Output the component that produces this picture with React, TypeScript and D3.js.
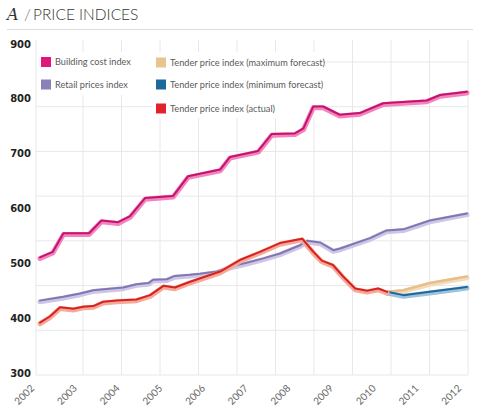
import React from "react";
import * as d3 from "d3";

const years = [2002, 2003, 2004, 2005, 2006, 2007, 2008, 2009, 2010, 2011, 2012];
const yTicks = [300, 400, 500, 600, 700, 800, 900];

const buildingCost: [number, number][] = [
  [2002.0, 511], [2002.3, 521], [2002.55, 555], [2003.15, 555], [2003.44, 578],
  [2003.83, 575], [2004.11, 586], [2004.46, 619], [2005.12, 623], [2005.47, 659],
  [2006.22, 671], [2006.45, 694], [2007.11, 705], [2007.43, 736], [2007.97, 737],
  [2008.17, 746], [2008.4, 786], [2008.63, 786], [2009.02, 771], [2009.49, 774],
  [2010.04, 792], [2011.06, 797], [2011.37, 807], [2012.0, 813],
];

const retailPrices: [number, number][] = [
  [2002.0, 432], [2002.55, 439], [2002.94, 445], [2003.25, 451], [2003.56, 453],
  [2003.95, 456], [2004.26, 462], [2004.54, 464], [2004.65, 470], [2004.97, 471],
  [2005.16, 477], [2005.51, 479], [2005.75, 481], [2006.14, 485], [2006.45, 494],
  [2006.84, 501], [2007.23, 509], [2007.62, 518], [2008.09, 533], [2008.25, 541],
  [2008.56, 538], [2008.87, 524], [2009.03, 527], [2009.73, 546], [2010.12, 560],
  [2010.51, 562], [2011.13, 578], [2012.0, 591],
];

const tenderActual: [number, number][] = [
  [2002.0, 392], [2002.23, 403], [2002.47, 420], [2002.78, 417], [2003.01, 421],
  [2003.25, 422], [2003.48, 430], [2003.8, 432], [2004.26, 434], [2004.58, 442],
  [2004.89, 459], [2005.16, 456], [2005.5, 466], [2006.22, 485], [2006.68, 506],
  [2007.15, 521], [2007.62, 537], [2008.14, 545], [2008.39, 522], [2008.6, 505],
  [2008.86, 497], [2009.1, 476], [2009.38, 454], [2009.66, 450], [2009.92, 454],
  [2010.13, 448],
];

const tenderMax: [number, number][] = [
  [2010.13, 448], [2010.51, 451], [2011.13, 464], [2012.0, 476],
];

const tenderMin: [number, number][] = [
  [2010.13, 448], [2010.51, 442], [2011.13, 448], [2012.0, 457],
];

const legendLabels = [
  "Building cost index",
  "Retail prices index",
  "Tender price index (maximum forecast)",
  "Tender price index (minimum forecast)",
  "Tender price index (actual)",
];

const W = 480;
const H = 415;

export default function App() {
  const x = d3.scaleLinear().domain([2002, 2012]).range([40, 467]);
  const y = d3.scaleLinear().domain([300, 900]).range([373, 44]);
  const line = d3
    .line<[number, number]>()
    .x((d) => x(d[0]))
    .y((d) => y(d[1]));

  const hGrid = d3.scaleLinear().domain([0, 7]).range([62, 375]);
  const vGrid = d3.scaleLinear().domain([0, 10]).range([83, 468]);
  const hLines = d3.range(8).map((i) => hGrid(i));
  const vLines = [36, ...d3.range(11).map((i) => vGrid(i))];

  const series = [
    { data: retailPrices, dark: "#8276b2", glow: "#cdc6e6", w: 2 },
    { data: tenderMax, dark: "#e8bf8a", glow: "#f3dcbc", w: 2.5 },
    { data: tenderMin, dark: "#1d679a", glow: "#9fc2dc", w: 2 },
    { data: tenderActual, dark: "#d3241f", glow: "#f7a89a", w: 2 },
    { data: buildingCost, dark: "#c4136e", glow: "#f383bc", w: 2 },
  ];

  const legend = [
    { label: legendLabels[0], color: "#e2157e", x: 41, y: 62 },
    { label: legendLabels[1], color: "#8a81b8", x: 41, y: 84.5 },
    { label: legendLabels[2], color: "#e8c48e", x: 156, y: 62.5 },
    { label: legendLabels[3], color: "#1a6a9a", x: 156, y: 84.5 },
    { label: legendLabels[4], color: "#e3232c", x: 156, y: 108.5 },
  ];

  return (
    <svg
      width={W}
      height={H}
      style={{ position: "absolute", left: 0, top: 0, background: "#fff" }}
    >
      <rect x={0} y={0} width={W} height={H} fill="#fff" />
      {/* title */}
      <text x={7} y={19.5} fontFamily="Georgia, 'DejaVu Serif', serif" fontStyle="italic" fontSize={16} fill="#333">
        A
      </text>
      <text x={24} y={19.5} fontFamily="Lato, sans-serif" fontWeight={300} fontSize={16} fill="#777">
        /
      </text>
      <text x={33} y={19.5} fontFamily="Lato, sans-serif" fontWeight={300} fontSize={15.5} fill="#333">
        PRICE INDICES
      </text>
      <line x1={7} x2={473} y1={29.5} y2={29.5} stroke="#dcdcdc" strokeWidth={1} />

      {/* grid */}
      <g stroke="#e8e8e8" strokeWidth={1}>
        {vLines.map((vx, i) => (
          <line key={"v" + i} x1={vx} x2={vx} y1={40} y2={375} />
        ))}
        {hLines.map((hy, i) => (
          <line key={"h" + i} x1={36} x2={468} y1={hy} y2={hy} />
        ))}
      </g>
      <rect x={37} y={52} width={116} height={43} fill="#fff" />
      <rect x={153} y={52} width={170} height={66} fill="#fff" />

      {/* y labels */}
      {yTicks.map((t) => (
        <text
          key={t}
          x={31}
          y={y(t)}
          dy="0.36em"
          textAnchor="end"
          fontFamily="'DejaVu Sans', sans-serif"
          fontWeight="bold"
          fontSize={10}
          fill="#222"
        >
          {t}
        </text>
      ))}

      {/* x labels */}
      {years.map((yr) => (
        <text
          key={yr}
          transform={`translate(${x(yr) - 5},389) rotate(-45)`}
          textAnchor="end"
          fontFamily="Lato, sans-serif"
          fontSize={10}
          fill="#666"
        >
          {yr}
        </text>
      ))}

      {/* legend */}
      {legend.map((l) => (
        <g key={l.label}>
          <rect x={l.x} y={l.y - 5} width={10} height={10} fill={l.color} />
          <text
            x={l.x + 14}
            y={l.y}
            dy="0.35em"
            fontFamily="Lato, sans-serif"
            fontSize={9.2}
            fill="#5a5a5a"
          >
            {l.label}
          </text>
        </g>
      ))}

      {/* lines */}
      {series.map((s, i) => (
        <g key={i} fill="none" strokeLinejoin="round" strokeLinecap="round">
          <path d={line(s.data) || ""} stroke={s.glow} strokeWidth={5} transform="translate(0,1.2)" />
          <path d={line(s.data) || ""} stroke={s.dark} strokeWidth={s.w} />
        </g>
      ))}
    </svg>
  );
}
